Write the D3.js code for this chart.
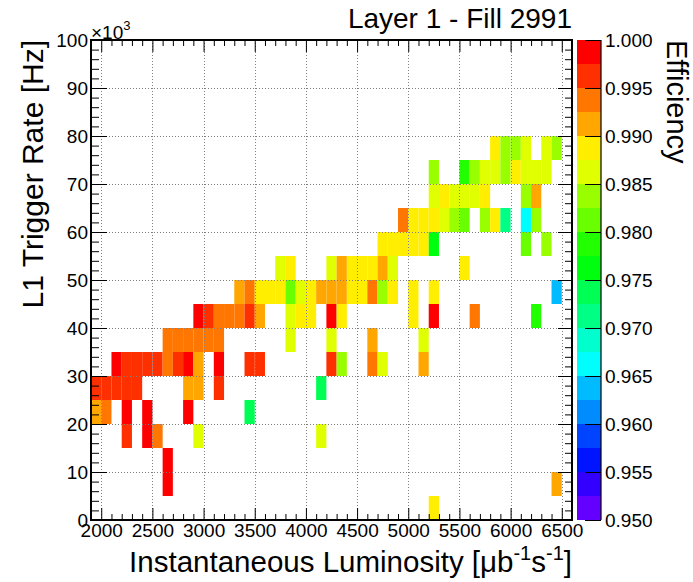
<!DOCTYPE html>
<html>
<head>
<meta charset="utf-8">
<script src="https://cdn.jsdelivr.net/npm/d3@7"></script>
<style>
  body { margin: 0; background: #fff; }
  svg { display: block; }
  text { font-family: "Liberation Sans", Arial, Helvetica, sans-serif; fill: #000; }
</style>
</head>
<body>
<svg id="chart" width="693" height="582"></svg>
<script>
// Efficiency per cell: luminosity bins of 100 µb⁻¹s⁻¹, trigger-rate bins of 5×10³ Hz.
// Each row lists [luminosity bin low edge, efficiency] for one rate bin.
const lumiBinWidth = 100;
const rateBinWidth = 5;

const rate0  = [[5200, .9888]];
const rate5  = [[2600, .9988], [6400, .9913]];
const rate10 = [[2600, .9988]];
const rate15 = [[2200, .9963], [2400, .9988], [2500, .9938], [2900, .9863], [4100, .9863]];
const rate20 = [[1900, .9913], [2000, .9938], [2200, .9988], [2400, .9988], [2800, .9988], [3400, .9738]];
const rate25 = [[1900, .9963], [2000, .9963], [2100, .9963], [2200, .9963], [2300, .9963], [2800, .9913],
                [2900, .9913], [3100, .9963], [4100, .9738]];
const rate30 = [[2100, .9988], [2200, .9963], [2300, .9963], [2400, .9963], [2500, .9963], [2600, .9938],
                [2700, .9963], [2800, .9988], [2900, .9913], [3100, .9988], [3400, .9963], [3500, .9963],
                [4200, .9963], [4300, .9838], [4600, .9938], [4700, .9863], [5100, .9913]];
const rate35 = [[2600, .9938], [2700, .9938], [2800, .9938], [2900, .9938], [3000, .9938], [3100, .9938],
                [3800, .9863], [4200, .9863], [4600, .9913], [5100, .9863]];
const rate40 = [[2900, .9988], [3000, .9963], [3100, .9938], [3200, .9938], [3300, .9938], [3400, .9963],
                [3500, .9913], [3800, .9863], [3900, .9888], [4000, .9888], [4200, .9988], [4300, .9888],
                [5000, .9888], [5200, .9988], [5600, .9938], [6200, .9788]];
const rate45 = [[3300, .9913], [3400, .9938], [3500, .9888], [3600, .9888], [3700, .9888], [3800, .9813],
                [3900, .9863], [4000, .9888], [4100, .9913], [4200, .9913], [4300, .9913], [4400, .9888],
                [4500, .9888], [4600, .9938], [4700, .9838], [4800, .9888], [5000, .9888], [5200, .9888],
                [6400, .9638]];
const rate50 = [[3700, .9863], [3800, .9888], [4200, .9863], [4300, .9913], [4400, .9888], [4500, .9888],
                [4600, .9888], [4700, .9913], [4800, .9863], [5500, .9888]];
const rate55 = [[4700, .9888], [4800, .9888], [4900, .9888], [5000, .9888], [5100, .9888], [5200, .9763],
                [6100, .9813], [6300, .9838]];
const rate60 = [[4900, .9938], [5000, .9888], [5100, .9888], [5200, .9888], [5300, .9863], [5400, .9838],
                [5500, .9813], [5700, .9838], [5800, .9888], [5900, .9713], [6100, .9663], [6200, .9838]];
const rate65 = [[5200, .9863], [5300, .9888], [5400, .9863], [5500, .9863], [5600, .9863], [5700, .9888],
                [6100, .9838], [6200, .9913]];
const rate70 = [[5200, .9838], [5500, .9788], [5600, .9838], [5700, .9863], [5800, .9863], [5900, .9838],
                [6000, .9888], [6100, .9863], [6200, .9863], [6300, .9863]];
const rate75 = [[5800, .9888], [5900, .9838], [6000, .9838], [6100, .9863], [6300, .9863], [6400, .9838]];

const rateRows = [[0, rate0], [5, rate5], [10, rate10], [15, rate15], [20, rate20], [25, rate25],
                  [30, rate30], [35, rate35], [40, rate40], [45, rate45], [50, rate50], [55, rate55],
                  [60, rate60], [65, rate65], [70, rate70], [75, rate75]];

const xMajorTicks = [2000, 2500, 3000, 3500, 4000, 4500, 5000, 5500, 6000, 6500];
const yMajorTicks = [0, 10, 20, 30, 40, 50, 60, 70, 80, 90, 100];
const zTicks = [0.950, 0.955, 0.960, 0.965, 0.970, 0.975, 0.980, 0.985, 0.990, 0.995, 1.000];

const titleText = "Layer 1 - Fill 2991";
const yTitle = "L1 Trigger Rate [Hz]";
const zTitle = "Efficiency";

// ---- layout ----
const L = 91, R = 572, T = 40, B = 520;
const svg = d3.select("#chart");

const x = d3.scaleLinear().domain([1900, 6600]).range([L, R]);
const y = d3.scaleLinear().domain([0, 100]).range([B, T]);
const z = d3.scaleLinear().domain([0.95, 1.0]).range([B, T]);

// 20 contour levels sampled from the 50-colour rainbow palette (hue 280 → 0)
const nLevels = 20, nPalette = 50;
const paletteHue = i => 280 - (i + 1) * (280 / nPalette);
const levelColors = d3.range(nLevels).map(j =>
  d3.hsl(paletteHue(Math.floor((j + 0.99) * nPalette / nLevels)), 1, 0.5).formatHex());
const color = d3.scaleQuantize().domain([0.95, 1.0]).range(levelColors);

// ---- cells ----
const cells = rateRows.flatMap(([rate, row]) => row.map(([lumi, eff]) => ({ lumi, rate, eff })));
svg.append("defs").append("clipPath").attr("id", "plotclip")
  .append("rect").attr("x", L).attr("y", T).attr("width", R - L).attr("height", B - T);

svg.append("g").attr("clip-path", "url(#plotclip)")
  .selectAll("rect").data(cells).join("rect")
  .attr("x", d => x(d.lumi))
  .attr("width", d => x(d.lumi + lumiBinWidth) - x(d.lumi))
  .attr("y", d => y(d.rate + rateBinWidth))
  .attr("height", d => y(d.rate) - y(d.rate + rateBinWidth))
  .attr("fill", d => color(d.eff));

// ---- grid ----
const grid = svg.append("g").attr("stroke", "#808080").attr("stroke-width", 1).attr("stroke-dasharray", "1,2");
grid.selectAll(".gx").data(xMajorTicks).join("line")
  .attr("x1", d => Math.round(x(d)) + 0.5).attr("x2", d => Math.round(x(d)) + 0.5)
  .attr("y1", T).attr("y2", B);
grid.selectAll(".gy").data(yMajorTicks.filter(v => v > 0 && v < 100)).join("line")
  .attr("y1", d => Math.round(y(d)) + 0.5).attr("y2", d => Math.round(y(d)) + 0.5)
  .attr("x1", L).attr("x2", R);

// ---- axes ----
const xMinor = d3.range(1900, 6601, 100).filter(v => !xMajorTicks.includes(v));
const yMinor = d3.range(0, 101, 2).filter(v => !yMajorTicks.includes(v));

function styleAxis(g) {
  g.select(".domain").remove();
  g.selectAll(".tick line").attr("stroke", "#000").attr("stroke-width", 1);
  g.selectAll("text").attr("font-size", 19).attr("fill", "#000")
    .attr("font-family", '"Liberation Sans", Arial, sans-serif');
}

svg.append("g").attr("transform", `translate(0,${B})`)
  .call(d3.axisBottom(x).tickValues(xMajorTicks).tickFormat(d3.format("d")).tickSizeInner(-12).tickSizeOuter(0).tickPadding(3.5))
  .call(styleAxis);
svg.append("g").attr("transform", `translate(0,${B})`)
  .call(d3.axisBottom(x).tickValues(xMinor).tickFormat("").tickSizeInner(-6).tickSizeOuter(0))
  .call(styleAxis);
svg.append("g").attr("transform", `translate(0,${T})`)
  .call(d3.axisTop(x).tickValues(xMajorTicks).tickFormat("").tickSizeInner(-12).tickSizeOuter(0))
  .call(styleAxis);
svg.append("g").attr("transform", `translate(0,${T})`)
  .call(d3.axisTop(x).tickValues(xMinor).tickFormat("").tickSizeInner(-6).tickSizeOuter(0))
  .call(styleAxis);

svg.append("g").attr("transform", `translate(${L},0)`)
  .call(d3.axisLeft(y).tickValues(yMajorTicks).tickFormat(d3.format("d")).tickSizeInner(-16).tickSizeOuter(0).tickPadding(3))
  .call(styleAxis);
svg.append("g").attr("transform", `translate(${L},0)`)
  .call(d3.axisLeft(y).tickValues(yMinor).tickFormat("").tickSizeInner(-8).tickSizeOuter(0))
  .call(styleAxis);
svg.append("g").attr("transform", `translate(${R},0)`)
  .call(d3.axisRight(y).tickValues(yMajorTicks).tickFormat("").tickSizeInner(-14).tickSizeOuter(0))
  .call(styleAxis);
svg.append("g").attr("transform", `translate(${R},0)`)
  .call(d3.axisRight(y).tickValues(yMinor).tickFormat("").tickSizeInner(-7).tickSizeOuter(0))
  .call(styleAxis);

// frame
svg.append("rect").attr("x", L).attr("y", T).attr("width", R - L).attr("height", B - T)
  .attr("fill", "none").attr("stroke", "#000").attr("stroke-width", 2);

// ×10³ exponent marker
const expo = svg.append("text").attr("x", L).attr("y", 39).attr("font-size", 19);
expo.append("tspan").text("×10");
expo.append("tspan").attr("font-size", 13).attr("dy", -9).text("3");

// ---- colour bar ----
const CB0 = 577, CB1 = 601;
const levels = d3.range(nLevels).map(j => 0.95 + j * 0.0025);
svg.append("g").selectAll("rect").data(levels).join("rect")
  .attr("x", CB0).attr("width", CB1 - CB0)
  .attr("y", d => z(d + 0.0025)).attr("height", d => z(d) - z(d + 0.0025))
  .attr("fill", d => color(d + 0.00125));
svg.append("g").attr("transform", `translate(${CB1},0)`)
  .call(d3.axisRight(z).tickValues(zTicks).tickFormat(d3.format(".3f")).tickSizeInner(-16).tickSizeOuter(0).tickPadding(4))
  .call(styleAxis);
svg.append("line").attr("x1", CB1).attr("x2", CB1).attr("y1", T).attr("y2", B)
  .attr("stroke", "#000").attr("stroke-width", 1.2);

// ---- titles ----
svg.append("text").attr("x", R).attr("y", 28).attr("text-anchor", "end")
  .attr("font-size", 28).text(titleText);

const xt = svg.append("text").attr("x", R).attr("y", 572).attr("text-anchor", "end").attr("font-size", 29.5);
xt.append("tspan").text("Instantaneous Luminosity [μb");
xt.append("tspan").attr("font-size", 20).attr("dy", -12).text("-1");
xt.append("tspan").attr("dy", 12).text("s");
xt.append("tspan").attr("font-size", 20).attr("dy", -12).text("-1");
xt.append("tspan").attr("dy", 12).text("]");

svg.append("text").attr("transform", `translate(43,${T}) rotate(-90)`)
  .attr("text-anchor", "end").attr("font-size", 30).text(yTitle);

svg.append("text").attr("transform", `translate(667,${T}) rotate(90)`)
  .attr("text-anchor", "start").attr("font-size", 29).text(zTitle);
</script>
</body>
</html>
